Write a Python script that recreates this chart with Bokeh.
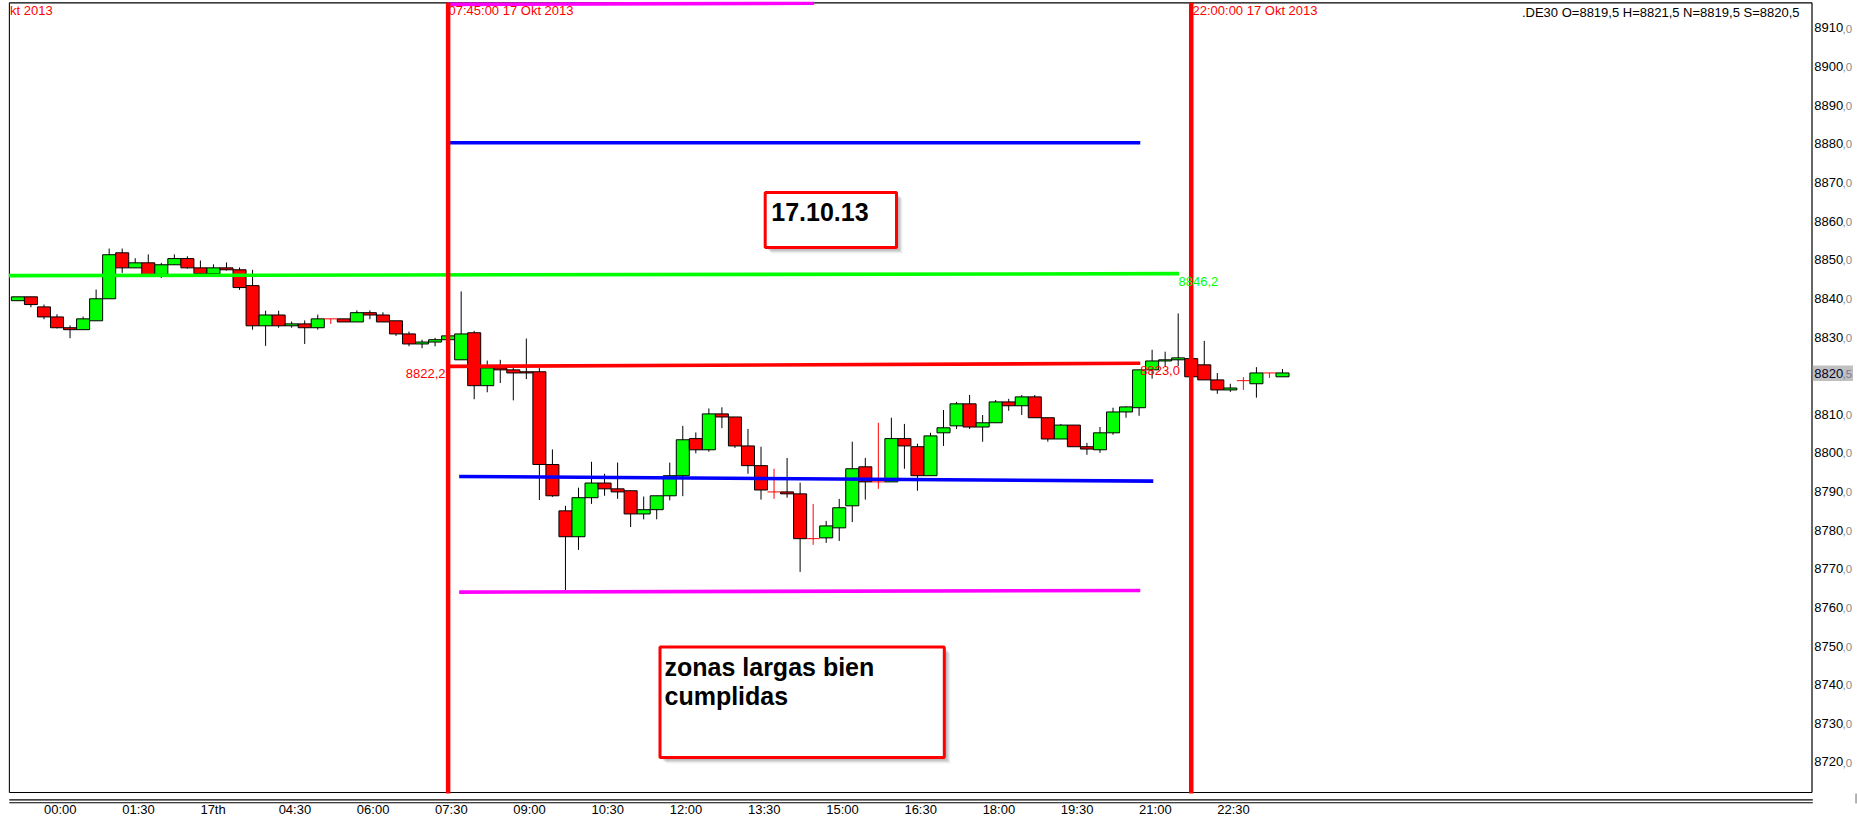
from bokeh.plotting import figure
from bokeh.models import FixedTicker, LinearAxis, Range1d, ColumnDataSource
from bokeh.core.properties import value
from bokeh.embed import file_html
from bokeh.resources import INLINE

# ---------------- data (15-minute candles, index 0 = 23:30) ----------------
opens = [8839.2, 8840.2, 8837.6, 8835.0, 8832.2, 8831.7, 8834.0, 8839.7, 8851.6, 8847.7,
         8849.0, 8846.0, 8848.5, 8850.1, 8847.7, 8846.2, 8847.7, 8847.2, 8843.1, 8832.7,
         8835.5, 8832.7, 8833.2, 8832.2, 8834.5, 8834.5, 8833.7, 8836.1, 8835.5, 8834.0,
         8830.6, 8828.0, 8828.5, 8829.1, 8823.9, 8830.9, 8817.2, 8821.8, 8821.3, 8820.8,
         8820.8, 8796.8, 8784.8, 8778.1, 8788.2, 8792.0, 8790.5, 8790.0, 8784.0, 8785.1,
         8788.7, 8793.9, 8803.5, 8800.6, 8809.9, 8809.1, 8801.6, 8796.5, 8789.7, 8789.7,
         8789.2, 8777.6, 8777.8, 8780.4, 8786.1, 8796.2, 8792.3, 8792.3, 8803.5, 8801.4,
         8793.9, 8805.0, 8806.8, 8812.5, 8806.5, 8807.6, 8813.0, 8812.0, 8814.3, 8808.9,
         8803.4, 8807.0, 8801.4, 8800.6, 8805.0, 8810.4, 8811.5, 8821.3, 8823.6, 8823.9,
         8824.2, 8822.6, 8818.7, 8816.1, 8818.5, 8817.7, 8820.5, 8819.5]
highs = [8840.2, 8840.2, 8838.2, 8835.7, 8832.8, 8835.1, 8842.1, 8852.7, 8852.7, 8850.2,
         8851.2, 8849.0, 8851.2, 8850.7, 8849.6, 8848.6, 8849.1, 8847.8, 8847.2, 8836.6,
         8836.6, 8833.8, 8834.1, 8835.6, 8834.5, 8834.5, 8836.7, 8836.7, 8836.2, 8834.0,
         8831.2, 8829.1, 8829.6, 8830.1, 8841.6, 8831.4, 8823.7, 8823.9, 8821.8, 8829.4,
         8821.8, 8800.7, 8786.1, 8790.8, 8797.5, 8794.4, 8797.3, 8790.0, 8788.5, 8788.7,
         8797.3, 8806.8, 8805.1, 8811.3, 8811.6, 8809.1, 8806.0, 8801.4, 8795.7, 8798.5,
         8792.1, 8786.6, 8782.2, 8787.9, 8802.7, 8798.5, 8807.6, 8808.9, 8807.3, 8802.2,
         8805.0, 8810.9, 8813.0, 8814.8, 8809.6, 8813.5, 8813.8, 8814.8, 8814.8, 8808.9,
         8807.3, 8807.0, 8802.4, 8806.5, 8811.5, 8811.9, 8821.3, 8826.5, 8826.0, 8835.9,
         8824.4, 8828.8, 8820.5, 8817.7, 8819.4, 8822.0, 8820.5, 8821.5]
lows = [8839.2, 8837.5, 8834.4, 8832.0, 8829.5, 8831.7, 8834.0, 8839.7, 8846.4, 8847.7,
        8845.8, 8845.1, 8848.5, 8847.5, 8846.0, 8846.0, 8847.0, 8842.0, 8831.7, 8827.5,
        8832.2, 8832.2, 8828.0, 8831.7, 8833.2, 8833.7, 8833.7, 8834.4, 8833.7, 8830.1,
        8827.4, 8826.9, 8827.4, 8829.1, 8823.9, 8813.7, 8815.5, 8817.9, 8813.4, 8818.9,
        8787.6, 8788.4, 8764.3, 8774.7, 8786.6, 8788.7, 8787.9, 8780.6, 8782.6, 8782.6,
        8787.5, 8788.6, 8799.7, 8800.1, 8806.2, 8801.1, 8794.4, 8787.7, 8787.9, 8788.2,
        8769.0, 8776.0, 8776.5, 8777.0, 8781.9, 8787.7, 8790.5, 8792.3, 8795.7, 8790.0,
        8793.9, 8801.6, 8806.0, 8806.0, 8802.7, 8807.6, 8810.7, 8809.6, 8808.9, 8802.7,
        8803.4, 8801.4, 8799.3, 8799.8, 8804.5, 8808.9, 8809.4, 8819.0, 8822.3, 8822.3,
        8819.3, 8818.7, 8815.1, 8815.6, 8816.1, 8814.1, 8819.2, 8819.5]
closes = [8840.2, 8838.2, 8835.0, 8832.2, 8831.7, 8834.5, 8839.7, 8851.1, 8847.7, 8849.0,
          8846.0, 8848.5, 8850.1, 8847.7, 8846.2, 8847.7, 8847.2, 8842.6, 8832.7, 8835.5,
          8832.7, 8833.2, 8832.2, 8834.5, 8834.5, 8833.7, 8836.1, 8835.5, 8833.7, 8830.6,
          8828.0, 8828.5, 8829.1, 8830.1, 8830.6, 8817.2, 8821.8, 8821.3, 8820.5, 8820.5,
          8796.8, 8788.7, 8778.1, 8788.2, 8792.0, 8790.5, 8789.7, 8784.0, 8785.1, 8788.7,
          8793.9, 8803.2, 8800.6, 8809.9, 8809.1, 8801.6, 8796.5, 8790.2, 8789.7, 8789.2,
          8777.6, 8777.6, 8780.9, 8785.6, 8795.7, 8792.3, 8792.3, 8803.5, 8801.6, 8793.9,
          8804.2, 8806.3, 8812.5, 8806.5, 8807.6, 8813.0, 8812.0, 8814.3, 8808.9, 8803.4,
          8807.0, 8801.4, 8800.8, 8805.0, 8810.4, 8811.7, 8821.3, 8823.6, 8823.9, 8824.4,
          8819.5, 8818.7, 8816.1, 8816.6, 8818.5, 8820.5, 8820.5, 8820.5]

time_labels = ["00:00", "01:30", "17th", "04:30", "06:00", "07:30", "09:00", "10:30",
               "12:00", "13:30", "15:00", "16:30", "18:00", "19:30", "21:00", "22:30"]
time_label_index = [2, 8, 14, 20, 26, 32, 38, 44, 50, 56, 62, 68, 74, 80, 86, 92]

price_ticks = [8720, 8730, 8740, 8750, 8760, 8770, 8780, 8790, 8800, 8810,
               8830, 8840, 8850, 8860, 8870, 8880, 8890, 8900, 8910]
last_price = 8820.5

# drawn levels: start/end candle index and start/end price
level_colors = ["#FF00FF", "#0000FF", "#00FF00", "#FF0000", "#0000FF", "#FF00FF"]
level_x0 = [32.95, 33.10, -0.70, 32.94, 33.85, 33.85]
level_x1 = [61.07, 86.09, 89.06, 86.09, 87.09, 86.09]
level_y0 = [8915.9, 8880.1, 8845.7, 8822.2, 8793.7, 8763.75]
level_y1 = [8916.2, 8880.1, 8846.2, 8823.0, 8792.5, 8764.2]

session_lines = [33, 90]           # 07:45 and 22:00
session_texts = ["07:45:00 17 Okt 2013", "22:00:00 17 Okt 2013"]
header_text = ".DE30 O=8819,5 H=8821,5 N=8819,5 S=8820,5"

# ---------------- geometry helpers (page pixels -> data) ----------------
PX_IDX = 13.037      # px per candle
X0_PAGE = 17.4       # page x of candle 0
PX_VAL = 3.863       # px per price unit
Y_REF_PAGE = 26.7    # page y of 8910
Y_REF_VAL = 8910.0


def dx(px):
    return (px - X0_PAGE) / PX_IDX


def dy(py):
    return Y_REF_VAL - (py - Y_REF_PAGE) / PX_VAL


FONT = "Liberation Sans"
FS = "13px"

W, H = 1857, 820
F_LEFT, F_TOP, F_BOTTOM = 8, 1, 803
p = figure(width=W, height=H, output_backend="svg", toolbar_location=None,
           title=None, x_axis_location=None, y_axis_location=None,
           x_range=Range1d(dx(F_LEFT), dx(W)), y_range=Range1d(dy(F_BOTTOM), dy(F_TOP)),
           min_border_left=F_LEFT, min_border_right=0, min_border_top=F_TOP,
           min_border_bottom=H - F_BOTTOM,
           background_fill_color="white", border_fill_color="white",
           styles={"position": "absolute", "top": "0px", "left": "0px"})
p.outline_line_color = None
p.grid.visible = False

# ---------------- chart frame lines ----------------
BL, BR, BT, BB = 8.8, 1811.5, 2.3, 792.0
p.segment(x0=[dx(BL), dx(BL), dx(BR), dx(BL), dx(BL), dx(BL)],
          x1=[dx(BR), dx(BL), dx(BR), dx(BR), dx(1812.3), dx(1812.3)],
          y0=[dy(BT), dy(BT), dy(BT), dy(BB), dy(799.3), dy(802.3)],
          y1=[dy(BT), dy(BB), dy(BB), dy(BB), dy(799.3), dy(802.3)],
          line_color="black", line_width=1.2)
p.segment(x0=[dx(1855.6)], x1=[dx(1855.6)], y0=[dy(793)], y1=[dy(830)],
          line_color="#b0b0b0", line_width=2)

# ---------------- candles ----------------
body = dict(x=[], top=[], bottom=[], color=[])
wick = dict(x=[], lo=[], hi=[])
doji = dict(x=[], y=[], lo=[], hi=[], xl=[], xr=[])
for k in range(len(opens)):
    o, h, l, c = opens[k], highs[k], lows[k], closes[k]
    if o == c:
        doji["x"].append(k); doji["y"].append(o)
        doji["lo"].append(l); doji["hi"].append(h)
        doji["xl"].append(k - 0.5); doji["xr"].append(k + 0.5)
    else:
        wick["x"].append(k); wick["lo"].append(l); wick["hi"].append(h)
        body["x"].append(k)
        body["top"].append(max(o, c)); body["bottom"].append(min(o, c))
        body["color"].append("#00FF00" if c > o else "#FF0000")

p.segment(x0="x", x1="x", y0="lo", y1="hi", source=ColumnDataSource(wick),
          line_color="black", line_width=1)
p.vbar(x="x", width=1.0, top="top", bottom="bottom", source=ColumnDataSource(body),
       fill_color="color", line_color="black", line_width=1)
dsrc = ColumnDataSource(doji)
p.segment(x0="x", x1="x", y0="lo", y1="hi", source=dsrc, line_color="#FF0000", line_width=1)
p.segment(x0="xl", x1="xr", y0="y", y1="y", source=dsrc, line_color="#FF0000", line_width=1)

# ---------------- levels ----------------
p.segment(x0=level_x0, x1=level_x1, y0=level_y0, y1=level_y1, line_color=level_colors,
          line_width=3.6)

p.segment(x0=session_lines, x1=session_lines, y0=[dy(BT)] * 2, y1=[dy(793)] * 2,
          line_color="#FF0000", line_width=4.5)

# ---------------- texts on chart ----------------
def txt(x, y, t, color, align="left", size=FS, style="normal"):
    p.text(x=x, y=y, text=t, text_color=color, text_font=value(FONT), text_font_size=size,
           text_font_style=style, text_baseline="middle", text_align=align)


txt([dx(448), dx(1192)], [dy(10)] * 2, session_texts, "#FF0000")
txt([dx(9.6)], [dy(10)], ["kt 2013"], "#FF0000")
txt([dx(1799)], [dy(11.7)], [header_text], "black", align="right")
txt([dx(445)], [dy(373.3)], ["8822,2"], "#FF0000", align="right")
txt([dx(1139.7)], [dy(370)], ["8823,0"], "#FF0000")
txt([dx(1178)], [dy(280.7)], ["8846,2"], "#00FF00")

# ---------------- note boxes ----------------
boxes = [(764.7, 896.0, 192.0, 247.0), (659.5, 943.8, 646.4, 757.0)]
for (l, r, t, b) in boxes:
    for off, a in [(6, 0.10), (4.5, 0.16), (3, 0.22)]:
        p.quad(left=[dx(l + off)], right=[dx(r + off)], top=[dy(t + off)], bottom=[dy(b + off)],
               fill_color="#606060", fill_alpha=a, line_color=None)
    p.quad(left=[dx(l)], right=[dx(r)], top=[dy(t)], bottom=[dy(b)],
           fill_color="white", line_color="#FF0000", line_width=3)

txt([dx(770.8)], [dy(211.8)], ["17.10.13"], "black", size="25px", style="bold")
txt([dx(664), dx(664)], [dy(666.1), dy(695.1)], ["zonas largas bien", "cumplidas"], "black",
    size="25px", style="bold")

# ---------------- price scale (right) ----------------
p.quad(left=[dx(1812.3)], right=[dx(1852.5)], top=[dy(365.0)], bottom=[dy(380.5)],
       fill_color="#c0c0c0", line_color=None)
scale_vals = price_ticks + [last_price]
int_txt = [str(int(v)) for v in scale_vals]
dec_txt = ["," + ("5" if v == last_price else "0") for v in scale_vals]
lab_y = [v - 0.2 for v in scale_vals]
txt([dx(1813.7)] * len(scale_vals), lab_y, int_txt,
    ["#000000" if v != last_price else "#00002a" for v in scale_vals])
txt([dx(1842.0)] * len(scale_vals), [v - 0.35 for v in scale_vals], dec_txt,
    ["#8a8a8a" if v != last_price else "#7a7a9a" for v in scale_vals], size="11.5px")

# ---------------- time axis ----------------
ADV = {":": 0.278, "t": 0.278, "h": 0.556}


def label_w(s):
    return sum(ADV.get(ch, 0.556) for ch in s) * 13


tick_pos = [i + label_w(s) / 2 / PX_IDX for i, s in zip(time_label_index, time_labels)]
xax = LinearAxis(ticker=FixedTicker(ticks=tick_pos),
                 major_label_overrides={t: s for t, s in zip(tick_pos, time_labels)})
xax.axis_line_color = None
xax.major_tick_line_color = None
xax.minor_tick_line_color = None
xax.major_tick_out = 0
xax.major_tick_in = 0
xax.major_label_standoff = -2
xax.major_label_text_font = FONT
xax.major_label_text_font_size = FS
xax.major_label_text_color = "black"
p.add_layout(xax, "below")

open("out.html", "w").write(file_html(p, INLINE))
